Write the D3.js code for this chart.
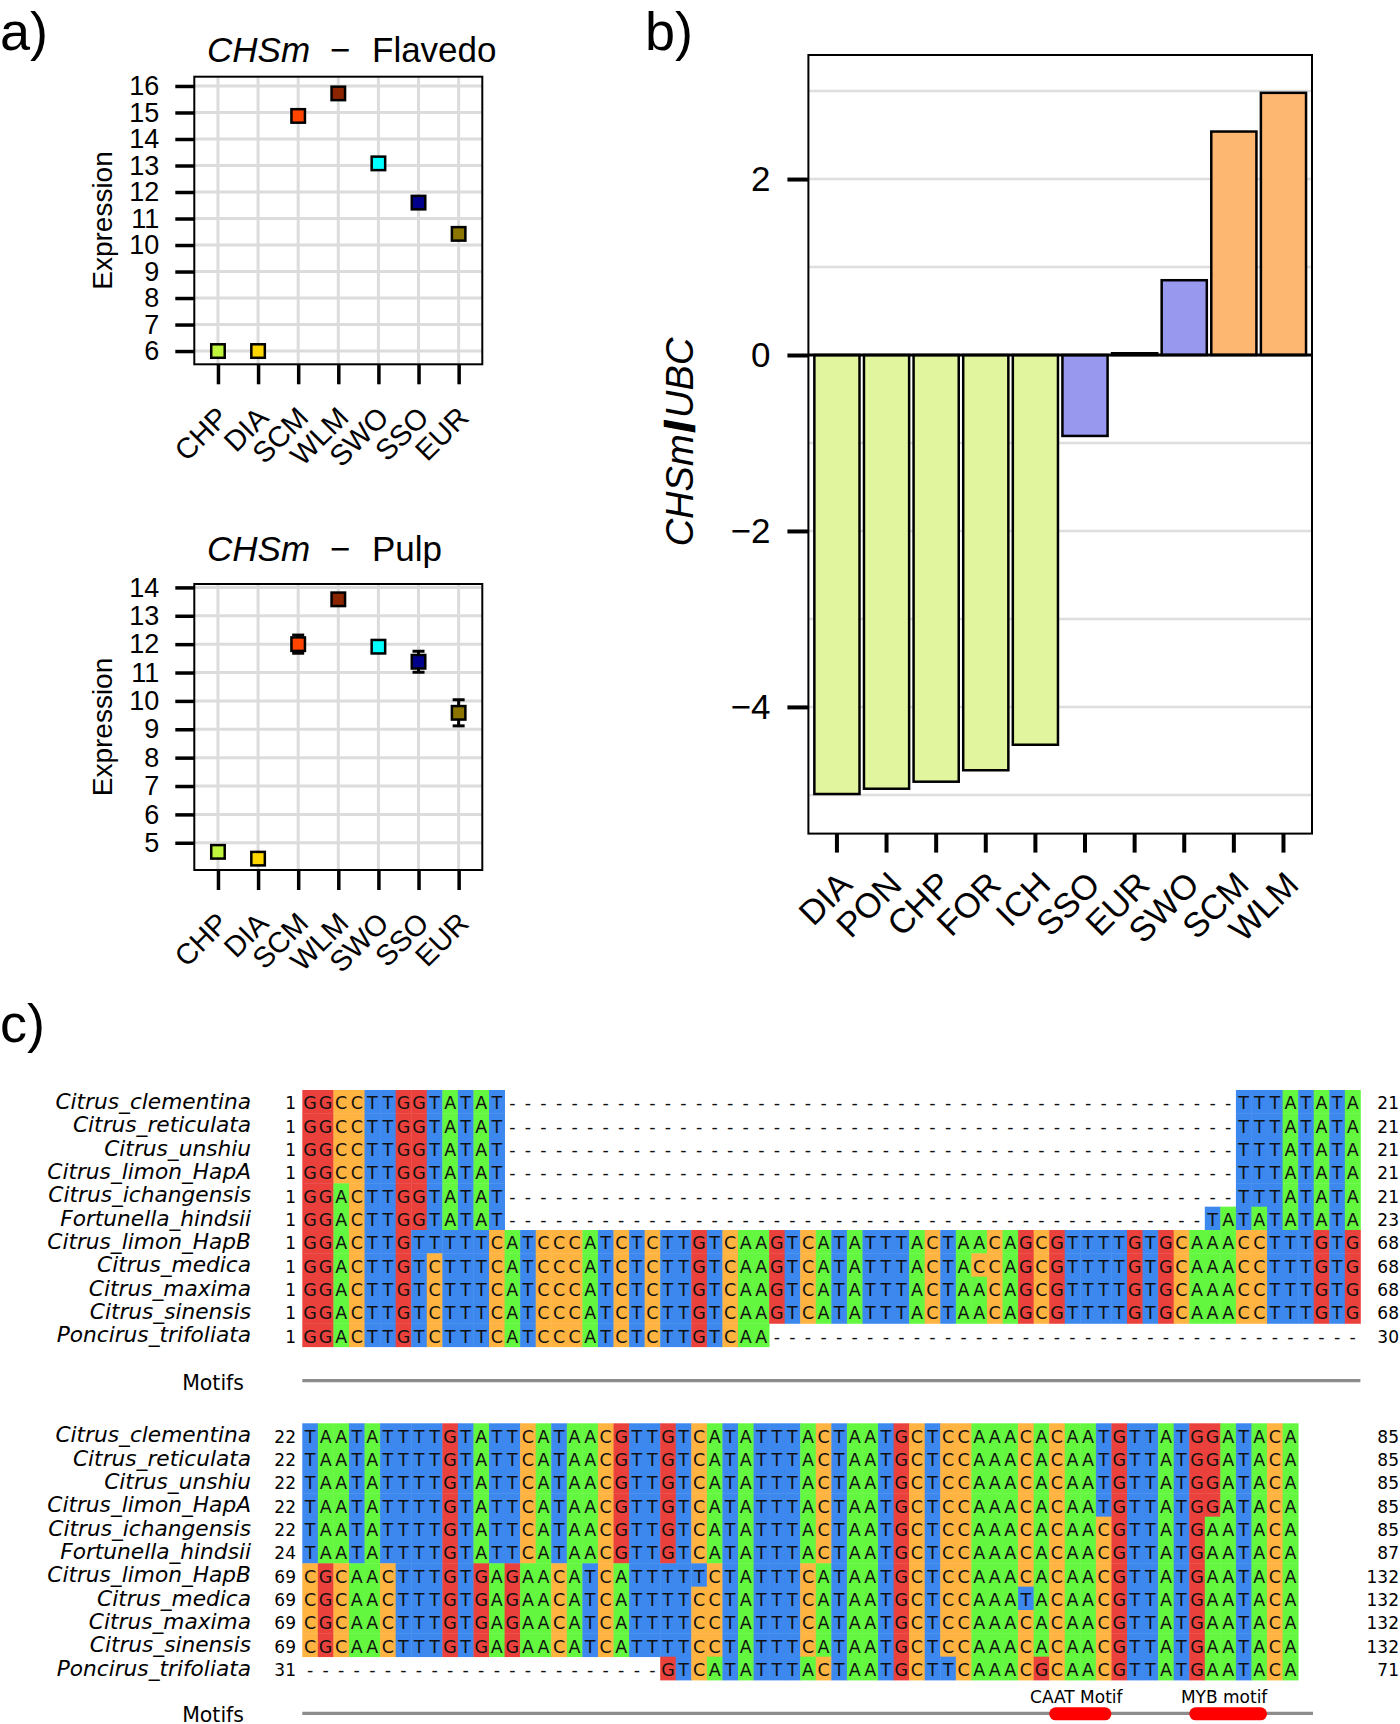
<!DOCTYPE html>
<html><head><meta charset="utf-8">
<script src="https://cdn.jsdelivr.net/npm/d3@7"></script>
<style>body{margin:0;background:#fff} svg{display:block}</style>
</head><body>
<svg id="fig" width="1400" height="1724"></svg>
<script>
// ---------------- DATA ----------------
const exprCats = ["CHP","DIA","SCM","WLM","SWO","SSO","EUR"];
const pointColors = ["#c0f53e","#ffd700","#ff4500","#8b2500","#00ffff","#00008b","#8b7500"];
const flavedoValues = [6.0, 6.0, 14.87, 15.72, 13.08, 11.60, 10.42];
const flavedoErr = [0.03, 0.03, 0.08, 0.08, 0.06, 0.08, 0.08];
const flavedoTicks = [6,7,8,9,10,11,12,13,14,15,16];
const pulpValues = [4.68, 4.44, 12.0, 13.58, 11.91, 11.38, 9.58];
const pulpErr = [0.05, 0.05, 0.32, 0.1, 0.1, 0.37, 0.46];
const pulpTicks = [5,6,7,8,9,10,11,12,13,14];

const ratioCats = ["DIA","PON","CHP","FOR","ICH","SSO","EUR","SWO","SCM","WLM"];
const ratioValues = [-4.99, -4.93, -4.85, -4.72, -4.43, -0.92, 0.02, 0.85, 2.54, 2.98];
const ratioGroups = ["low","low","low","low","low","mid","mid","mid","high","high"];
const ratioTicks = [-4, -2, 0, 2];
const ratioGrid = [-5, -4, -3, -2, -1, 1, 2, 3];
const groupColors = {low:"#e1f59f", mid:"#9898ee", high:"#fdb771"};

const species = ["Citrus_clementina","Citrus_reticulata","Citrus_unshiu","Citrus_limon_HapA",
  "Citrus_ichangensis","Fortunella_hindsii","Citrus_limon_HapB","Citrus_medica",
  "Citrus_maxima","Citrus_sinensis","Poncirus_trifoliata"];
const block1Seqs = [
  "GGCCTTGGTATAT-----------------------------------------------TTTATATA",
  "GGCCTTGGTATAT-----------------------------------------------TTTATATA",
  "GGCCTTGGTATAT-----------------------------------------------TTTATATA",
  "GGCCTTGGTATAT-----------------------------------------------TTTATATA",
  "GGACTTGGTATAT-----------------------------------------------TTTATATA",
  "GGACTTGGTATAT---------------------------------------------TATATATATA",
  "GGACTTGTTTTTCATCCCATCTCTTGTCAAGTCATATTTACTAACAGCGTTTTGTGCAAACCTTTGTG",
  "GGACTTGTCTTTCATCCCATCTCTTGTCAAGTCATATTTACTACCAGCGTTTTGTGCAAACCTTTGTG",
  "GGACTTGTCTTTCATCCCATCTCTTGTCAAGTCATATTTACTAACAGCGTTTTGTGCAAACCTTTGTG",
  "GGACTTGTCTTTCATCCCATCTCTTGTCAAGTCATATTTACTAACAGCGTTTTGTGCAAACCTTTGTG",
  "GGACTTGTCTTTCATCCCATCTCTTGTCAA--------------------------------------"
];
const block1Start = [1,1,1,1,1,1,1,1,1,1,1];
const block1End = [21,21,21,21,21,23,68,68,68,68,30];
const block2Seqs = [
  "TAATATTTTGTATTCATAACGTTGTCATATTTACTAATGCTCCAAACACAATGTTATGGATACA",
  "TAATATTTTGTATTCATAACGTTGTCATATTTACTAATGCTCCAAACACAATGTTATGGATACA",
  "TAATATTTTGTATTCATAACGTTGTCATATTTACTAATGCTCCAAACACAATGTTATGGATACA",
  "TAATATTTTGTATTCATAACGTTGTCATATTTACTAATGCTCCAAACACAATGTTATGGATACA",
  "TAATATTTTGTATTCATAACGTTGTCATATTTACTAATGCTCCAAACACAACGTTATGAATACA",
  "TAATATTTTGTATTCATAACGTTGTCATATTTACTAATGCTCCAAACACAACGTTATGAATACA",
  "CGCAACTTTGTGAGAACATCATTTTTCTATTTCATAATGCTCCAAACACAACGTTATGAATACA",
  "CGCAACTTTGTGAGAACATCATTTTCCTATTTCATAATGCTCCAAATACAACGTTATGAATACA",
  "CGCAACTTTGTGAGAACATCATTTTCCTATTTCATAATGCTCCAAACACAACGTTATGAATACA",
  "CGCAACTTTGTGAGAACATCATTTTCCTATTTCATAATGCTCCAAACACAACGTTATGAATACA",
  "-----------------------GTCATATTTACTAATGCTTCAAACGCAACGTTATGAATACA"
];
const block2Start = [22,22,22,22,22,24,69,69,69,69,31];
const block2End = [85,85,85,85,85,87,132,132,132,132,71];
const block2Motifs = [{label:"CAAT Motif", from:48, to:52},{label:"MYB motif", from:57, to:62}];
const baseColors = {A:"#64f73f", C:"#ffb340", G:"#eb413c", T:"#3c88ee"};

// ---------------- DRAW ----------------
const svg = d3.select("#fig");
const SANS = "'Liberation Sans', Arial, Helvetica, sans-serif";
const DV = "'DejaVu Sans', sans-serif";

function panelLabel(txt, x, y) {
  svg.append("text").attr("x", x).attr("y", y).text(txt)
    .attr("font-family", SANS).attr("font-size", 54).attr("fill", "#000");
}
panelLabel("a)", 0, 50);
panelLabel("b)", 645, 50);
panelLabel("c)", 0, 1042);

function drawScatter(cfg) {
  const {x0, x1, y0, y1} = cfg.box;
  const g = svg.append("g");
  const x = d3.scalePoint().domain(exprCats).range([x0, x1]).padding(0.59);
  const y = d3.scaleLinear().domain(cfg.domain).range([y1, y0]);
  g.selectAll("line.hg").data(cfg.ticks).join("line").attr("class","hg")
    .attr("x1", x0).attr("x2", x1).attr("y1", d => y(d)).attr("y2", d => y(d))
    .attr("stroke", "#dcdcdc").attr("stroke-width", 3);
  g.selectAll("line.vg").data(exprCats).join("line").attr("class","vg")
    .attr("x1", d => x(d)).attr("x2", d => x(d)).attr("y1", y0).attr("y2", y1)
    .attr("stroke", "#dcdcdc").attr("stroke-width", 3);
  g.append("rect").attr("x", x0).attr("y", y0).attr("width", x1 - x0).attr("height", y1 - y0)
    .attr("fill", "none").attr("stroke", "#000").attr("stroke-width", 2);
  const ya = g.append("g").attr("transform", `translate(${x0},0)`)
    .call(d3.axisLeft(y).tickValues(cfg.ticks).tickSize(19).tickPadding(16).tickFormat(d3.format("d")));
  ya.select(".domain").remove();
  ya.selectAll(".tick line").attr("stroke-width", 3.5);
  ya.selectAll(".tick text").attr("font-family", SANS).attr("font-size", 27).attr("fill", "#000");
  const xa = g.append("g").attr("transform", `translate(0,${y1})`)
    .call(d3.axisBottom(x).tickSize(20).tickFormat(""));
  xa.select(".domain").remove();
  xa.selectAll(".tick line").attr("stroke-width", 3.5);
  g.selectAll("text.xl").data(exprCats).join("text").attr("class","xl")
    .attr("transform", d => `translate(${x(d) + 12},${y1 + 55}) rotate(-45)`)
    .attr("text-anchor", "end").attr("font-family", SANS).attr("font-size", 29).text(d => d);
  const pts = exprCats.map((c, i) => ({c, v: cfg.values[i], e: cfg.errs[i], col: pointColors[i]}));
  g.selectAll("line.eb").data(pts).join("line").attr("class","eb")
    .attr("x1", d => x(d.c)).attr("x2", d => x(d.c)).attr("y1", d => y(d.v - d.e)).attr("y2", d => y(d.v + d.e))
    .attr("stroke", "#000").attr("stroke-width", 3);
  ["lo","hi"].forEach(k => {
    g.selectAll("line.cap" + k).data(pts).join("line").attr("class","cap" + k)
      .attr("x1", d => x(d.c) - 6).attr("x2", d => x(d.c) + 6)
      .attr("y1", d => y(k === "lo" ? d.v - d.e : d.v + d.e)).attr("y2", d => y(k === "lo" ? d.v - d.e : d.v + d.e))
      .attr("stroke", "#000").attr("stroke-width", 3);
  });
  const s = 13.5;
  g.selectAll("rect.pt").data(pts).join("rect").attr("class","pt")
    .attr("x", d => x(d.c) - s / 2).attr("y", d => y(d.v) - s / 2).attr("width", s).attr("height", s)
    .attr("fill", d => d.col).attr("stroke", "#000").attr("stroke-width", 2.5);
  g.append("text").attr("transform", `translate(112,${(y0 + y1) / 2}) rotate(-90)`)
    .attr("text-anchor", "middle").attr("font-family", SANS).attr("font-size", 28).text("Expression");
  g.append("text").attr("x", 207).attr("y", cfg.titleY).attr("font-family", SANS).attr("font-size", 35)
    .attr("font-style", "italic").text("CHSm");
  g.append("text").attr("x", 340).attr("y", cfg.titleY).attr("text-anchor","middle").attr("font-family", SANS).attr("font-size", 35).text("\u2212");
  g.append("text").attr("x", 372).attr("y", cfg.titleY).attr("font-family", SANS).attr("font-size", 35).text(cfg.title);
}

drawScatter({box:{x0:194.3, x1:482.3, y0:76.7, y1:364.3}, domain:[5.5, 16.35], ticks: flavedoTicks,
  values: flavedoValues, errs: flavedoErr, title: "Flavedo", titleY: 62});
drawScatter({box:{x0:194.3, x1:482.3, y0:584, y1:870}, domain:[4.04, 14.12], ticks: pulpTicks,
  values: pulpValues, errs: pulpErr, title: "Pulp", titleY: 561});

// Panel b
(function() {
  const x0 = 808.4, x1 = 1312, y0 = 55, y1 = 833.6;
  const g = svg.append("g");
  const x = d3.scaleBand().domain(ratioCats).range([x0, x1]).paddingInner(0.09).paddingOuter(0.12);
  const y = d3.scaleLinear().domain([-5.44, 3.41]).range([y1, y0]);
  g.selectAll("line.hg").data(ratioGrid).join("line").attr("class","hg")
    .attr("x1", x0).attr("x2", x1).attr("y1", d => y(d)).attr("y2", d => y(d))
    .attr("stroke", "#dedede").attr("stroke-width", 2.5);
  const data = ratioCats.map((c, i) => ({c, v: ratioValues[i], grp: ratioGroups[i]}));
  g.selectAll("rect.bar").data(data).join("rect").attr("class","bar")
    .attr("x", d => x(d.c)).attr("width", x.bandwidth())
    .attr("y", d => y(Math.max(0, d.v))).attr("height", d => Math.abs(y(d.v) - y(0)))
    .attr("fill", d => groupColors[d.grp]).attr("stroke", "#000").attr("stroke-width", 2.5);
  g.append("line").attr("x1", x0).attr("x2", x1).attr("y1", y(0)).attr("y2", y(0))
    .attr("stroke", "#000").attr("stroke-width", 3);
  g.append("rect").attr("x", x0).attr("y", y0).attr("width", x1 - x0).attr("height", y1 - y0)
    .attr("fill", "none").attr("stroke", "#000").attr("stroke-width", 2);
  const ya = g.append("g").attr("transform", `translate(${x0},0)`)
    .call(d3.axisLeft(y).tickValues(ratioTicks).tickSize(21).tickPadding(17).tickFormat(d => d < 0 ? "\u2212" + Math.abs(d) : d));
  ya.select(".domain").remove();
  ya.selectAll(".tick line").attr("stroke-width", 4);
  ya.selectAll(".tick text").attr("font-family", SANS).attr("font-size", 35).attr("fill", "#000");
  const xa = g.append("g").attr("transform", `translate(0,${y1})`)
    .call(d3.axisBottom(x).tickSize(19).tickFormat(""));
  xa.select(".domain").remove();
  xa.selectAll(".tick line").attr("stroke-width", 4);
  g.selectAll("text.xl").data(ratioCats).join("text").attr("class","xl")
    .attr("transform", d => `translate(${x(d) + x.bandwidth() / 2 + 17},${y1 + 53}) rotate(-45)`)
    .attr("text-anchor", "end").attr("font-family", SANS).attr("font-size", 34.5).text(d => d);
  const t = g.append("text").attr("transform", `translate(693,442) rotate(-90)`)
    .attr("text-anchor", "middle").attr("font-family", SANS).attr("font-size", 38);
  t.append("tspan").attr("font-style", "italic").text("CHSm");
  t.append("tspan").attr("dx", 3).attr("font-weight", "bold").attr("stroke", "#000").attr("stroke-width", 2.5).text("/");
  t.append("tspan").attr("dx", 3).attr("font-style", "italic").text("UBC");
})();

// Panel c
function drawBlock(seqs, starts, ends, top, motifLineY, motifLineEnd, motifs) {
  const g = svg.append("g");
  const cx = d3.scaleLinear().domain([0, 68]).range([302.3, 1360.4]);
  const ry = d3.scaleLinear().domain([0, 11]).range([top, top + 256.7]);
  const cells = [];
  seqs.forEach((s, r) => s.split("").forEach((ch, c) => cells.push({r, c, ch})));
  g.selectAll("rect.cell").data(cells.filter(d => d.ch !== "-")).join("rect").attr("class","cell")
    .attr("x", d => cx(d.c)).attr("y", d => ry(d.r))
    .attr("width", d => cx(d.c + 1) - cx(d.c) + 0.4).attr("height", d => ry(d.r + 1) - ry(d.r) + 0.4)
    .attr("fill", d => baseColors[d.ch]);
  g.selectAll("text.ch").data(cells).join("text").attr("class","ch")
    .attr("x", d => cx(d.c + 0.5)).attr("y", d => ry(d.r) + 19.3)
    .attr("text-anchor", "middle").attr("font-family", DV).attr("font-size", 17.5)
    .attr("fill", "#111").text(d => d.ch);
  g.selectAll("text.sp").data(species).join("text").attr("class","sp")
    .attr("x", 251).attr("y", (d, i) => ry(i) + 19).attr("text-anchor", "end")
    .attr("font-family", DV).attr("font-style", "italic").attr("font-size", 21.7).text(d => d);
  g.selectAll("text.st").data(starts).join("text").attr("class","st")
    .attr("x", 296).attr("y", (d, i) => ry(i) + 19.3).attr("text-anchor", "end")
    .attr("font-family", DV).attr("font-size", 17).text(d => d);
  g.selectAll("text.en").data(ends).join("text").attr("class","en")
    .attr("x", 1399).attr("y", (d, i) => ry(i) + 19.3).attr("text-anchor", "end")
    .attr("font-family", DV).attr("font-size", 17).text(d => d);
  g.append("text").attr("x", 244).attr("y", motifLineY + 9).attr("text-anchor", "end")
    .attr("font-family", DV).attr("font-size", 20.5).text("Motifs");
  g.append("line").attr("x1", cx(0)).attr("x2", motifLineEnd).attr("y1", motifLineY).attr("y2", motifLineY)
    .attr("stroke", "#8c8c8c").attr("stroke-width", 3.2);
  g.selectAll("rect.mo").data(motifs).join("rect").attr("class","mo")
    .attr("x", d => cx(d.from)).attr("width", d => cx(d.to) - cx(d.from))
    .attr("y", motifLineY - 6).attr("height", 13).attr("rx", 6.5).attr("fill", "#ff0000");
  g.selectAll("text.mol").data(motifs).join("text").attr("class","mol")
    .attr("x", d => (cx(d.from) + cx(d.to)) / 2 - 4).attr("y", motifLineY - 10.5).attr("text-anchor", "middle")
    .attr("font-family", DV).attr("font-size", 17).text(d => d.label);
}
drawBlock(block1Seqs, block1Start, block1End, 1090, 1380.7, 1360.4, []);
drawBlock(block2Seqs, block2Start, block2End, 1423.3, 1713.3, 1313, block2Motifs);
</script>
</body></html>
